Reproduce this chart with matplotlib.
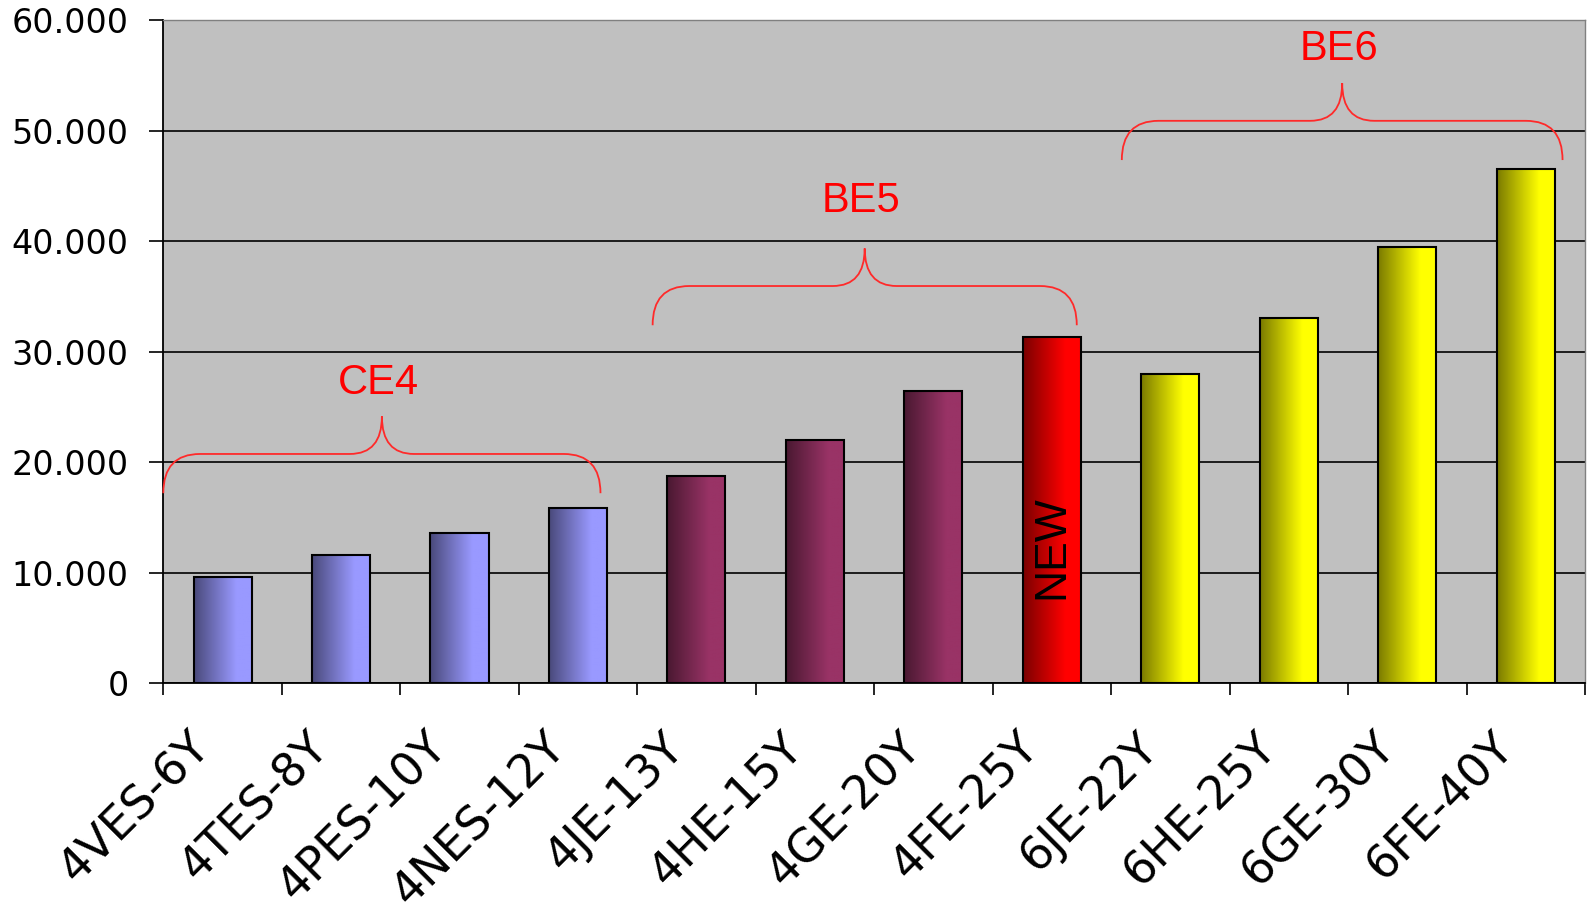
import numpy as np
import matplotlib
matplotlib.use("Agg")
import matplotlib.pyplot as plt
from matplotlib.path import Path
from matplotlib.patches import PathPatch
from matplotlib.ticker import FuncFormatter
from matplotlib.transforms import ScaledTranslation
from matplotlib.colors import to_rgb

plt.rcParams['font.family'] = ['Liberation Sans', 'DejaVu Sans']

# data
models = ["4VES-6Y", "4TES-8Y", "4PES-10Y", "4NES-12Y",
          "4JE-13Y", "4HE-15Y", "4GE-20Y", "4FE-25Y",
          "6JE-22Y", "6HE-25Y", "6GE-30Y", "6FE-40Y"]
values = [9650, 11620, 13600, 15900,
          18730, 22000, 26440, 31330,
          28000, 33060, 39450, 46520]
bar_colors = ["#9999ff"] * 4 + ["#993366"] * 3 + ["#ff0000"] + ["#ffff00"] * 4

# group braces (x in category units, y in data units)
group_names = ["CE4", "BE5", "BE6"]
brace_x0 = [-0.5, 3.63, 7.59]
brace_x1 = [3.19, 7.21, 11.31]
brace_y = [17200, 32400, 47350]
group_label_y = [27200, 43660, 57420]

new_index = 7
new_label_y = 12300


def gradient_img(color, n=256):
    c = np.array(to_rgb(color))
    t = np.linspace(0, 1, n)
    k = np.clip(0.48 + (1 - 0.48) * t / 0.72, 0, 1)
    return (k[:, None] * c[None, :])[None, :, :]


def brace(ax, x0, x1, yb, rise=3550, tip=3400, r=0.31, r2=0.27):
    xm = (x0 + x1) / 2
    yh = yb + rise
    yp = yh + tip
    verts = [(x0, yb), (x0, yh), (x0 + r, yh), (xm - r2, yh), (xm, yh),
             (xm, yp), (xm, yh), (xm + r2, yh), (x1 - r, yh), (x1, yh),
             (x1, yb)]
    codes = [Path.MOVETO, Path.CURVE3, Path.CURVE3, Path.LINETO,
             Path.CURVE3, Path.CURVE3, Path.CURVE3, Path.CURVE3,
             Path.LINETO, Path.CURVE3, Path.CURVE3]
    ax.add_patch(PathPatch(Path(verts, codes), fill=False,
                           edgecolor="#ff2a2a", lw=1.3, zorder=4,
                           clip_on=False))


fig = plt.figure(figsize=(15.9, 9.17), dpi=100)
ax = fig.add_axes([0.1027, 0.2549, 0.8942, 0.7230])
ax.set_facecolor("#c0c0c0")

x = np.arange(len(models))
width = 0.49
bars = ax.bar(x, values, width, facecolor="none", edgecolor="black",
              linewidth=1.5, zorder=3)
for b, col in zip(bars, bar_colors):
    ax.imshow(gradient_img(col), aspect="auto", interpolation="bilinear",
              extent=(b.get_x(), b.get_x() + b.get_width(), 0, b.get_height()),
              zorder=2)

ax.set_xlim(-0.5, len(models) - 0.5)
ax.set_ylim(0, 60000)

ax.set_yticks(np.arange(0, 60001, 10000))
ax.yaxis.set_major_formatter(FuncFormatter(lambda v, p: f"{v:,.0f}".replace(",", ".")))
ax.yaxis.grid(True, color="black", linewidth=1.2)
ax.set_axisbelow(True)
ax.tick_params(axis="y", length=10, width=1.2, pad=15)
for lab in ax.get_yticklabels():
    lab.set_fontfamily("DejaVu Sans")
    lab.set_fontsize(24)

ax.set_xticks(np.arange(-0.5, len(models), 1))
ax.set_xticklabels([])
ax.tick_params(axis="x", length=8.5, width=1.2)

off = ScaledTranslation(-0.35, -0.41, fig.dpi_scale_trans)
for i, name in enumerate(models):
    ax.text(i, 0, name, rotation=45, ha="right", va="top",
            rotation_mode="anchor", fontsize=33, family="DejaVu Sans",
            transform=ax.get_xaxis_transform() + off)

for side in ("left", "bottom"):
    ax.spines[side].set_color("black")
    ax.spines[side].set_linewidth(1.3)
for side in ("top", "right"):
    ax.spines[side].set_color("#808080")
    ax.spines[side].set_linewidth(1.0)

for name, x0, x1, yb, ly in zip(group_names, brace_x0, brace_x1, brace_y, group_label_y):
    brace(ax, x0, x1, yb)
    ax.text((x0 + x1) / 2 - 0.03, ly, name, color="#ff0000", fontsize=30,
            ha="center", va="center", zorder=5)

ax.text(new_index, new_label_y, "NEW", rotation=90, fontsize=32,
        ha="center", va="center", color="black", zorder=5)

fig.savefig("out.png", dpi=100)
